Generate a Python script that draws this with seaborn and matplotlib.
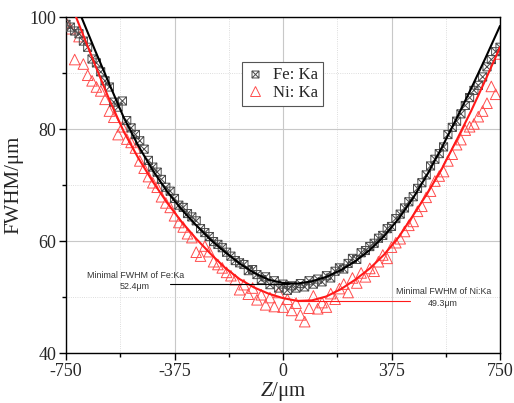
import numpy as np
import matplotlib
matplotlib.use("Agg")
import matplotlib.pyplot as plt
import seaborn as sns
from matplotlib.path import Path
from matplotlib.lines import Line2D
from matplotlib.ticker import MultipleLocator

# measured positions (um), 15 um steps
z = list(range(-750, 751, 15))

fe_fwhm = [
    98.7, 98.2, 97.5, 97.0, 95.7, 94.6, 92.5, 91.8, 90.2, 88.6,
    87.5, 84.8, 83.9, 85.0, 81.5, 80.2, 79.0, 77.9, 76.4, 74.4,
    73.2, 72.3, 71.0, 69.6, 68.9, 67.6, 66.4, 66.0, 64.9, 64.3,
    63.6, 62.2, 61.5, 60.8, 59.9, 59.4, 58.8, 58.0, 57.3, 56.5,
    56.1, 55.8, 54.7, 54.9, 54.0, 53.1, 53.6, 52.2, 52.9, 51.6,
    52.3, 51.2, 52.0, 51.6, 52.4, 51.8, 52.9, 52.3, 53.2, 52.7,
    53.8, 53.4, 54.6, 55.2, 55.0, 56.0, 56.9, 56.7, 57.9, 58.3,
    59.0, 59.6, 60.5, 61.0, 62.2, 62.6, 64.0, 64.8, 65.9, 67.0,
    67.9, 69.4, 70.4, 71.8, 73.4, 74.6, 75.6, 76.8, 79.0, 80.3,
    81.4, 82.7, 84.2, 85.6, 86.9, 87.8, 89.3, 91.1, 92.4, 93.8,
    94.6,
]

ni_fwhm = [
    99.0, 97.9, 92.4, 96.5, 91.6, 89.6, 88.6, 87.5, 86.8, 85.3,
    83.2, 82.1, 79.0, 80.4, 78.2, 77.6, 76.6, 74.3, 73.0, 71.5,
    70.4, 69.6, 67.9, 66.8, 66.0, 64.5, 63.3, 62.5, 61.3, 60.6,
    58.0, 57.3, 59.1, 58.1, 56.3, 55.8, 55.2, 54.4, 53.8, 53.1,
    51.3, 52.2, 50.5, 51.6, 49.5, 50.4, 48.6, 49.9, 48.3, 50.8,
    48.2, 49.6, 47.6, 48.9, 46.8, 45.6, 48.0, 50.2, 47.9, 49.0,
    48.2, 50.6, 49.6, 51.5, 52.3, 50.8, 53.4, 52.5, 54.3, 53.6,
    55.1, 54.6, 56.3, 57.5, 56.9, 58.9, 59.7, 60.4, 61.7, 62.8,
    63.5, 65.3, 66.2, 67.8, 68.9, 70.7, 71.6, 72.4, 74.3, 75.5,
    77.2, 78.1, 79.8, 80.4, 80.9, 82.2, 83.2, 84.6, 87.6, 86.2,
    93.4,
]

# fitted curves, 50 um steps
fit_z = list(range(-750, 751, 50))
fe_fit = [106.8, 100.4, 94.1, 88.0, 82.0, 77.0, 72.6, 68.8, 65.6, 62.8,
          60.2, 58.0, 56.0, 54.3, 53.1, 52.5, 52.4, 52.8, 53.6, 54.8,
          56.4, 58.4, 60.9, 64.0, 67.7, 72.0, 76.8, 81.9, 87.2, 92.7, 98.4]
ni_fit = [104.5, 98.0, 91.5, 85.2, 79.5, 74.8, 70.6, 66.8, 63.4, 60.4,
          57.7, 55.2, 53.2, 51.7, 50.6, 49.8, 49.3, 49.4, 50.1, 51.4,
          53.1, 55.1, 57.6, 60.7, 64.6, 68.6, 73.0, 78.0, 83.2, 88.8, 94.6]

fe_min = 52.4
ni_min = 49.3

sns.set_theme(style="ticks")
plt.rcParams["font.family"] = ["Liberation Serif", "DejaVu Serif"]
plt.rcParams["mathtext.fontset"] = "custom"
plt.rcParams["mathtext.it"] = "Liberation Serif:italic"
plt.rcParams["axes.unicode_minus"] = False

fe_color = "#4a4a4a"
ni_color = "#ff4d4d"

# square with a cross inside, like the Origin marker
box_x = Path([(-1, -1), (1, -1), (1, 1), (-1, 1), (-1, -1),
              (-1, -1), (1, 1), (-1, 1), (1, -1)],
             [Path.MOVETO, Path.LINETO, Path.LINETO, Path.LINETO, Path.CLOSEPOLY,
              Path.MOVETO, Path.LINETO, Path.MOVETO, Path.LINETO])

fig = plt.figure(figsize=(5.14, 4.03), dpi=100)
ax = fig.add_axes([66 / 514, 1 - 353 / 403, 434 / 514, 336 / 403])

ax.grid(True, which="major", color="#c8c8c8", lw=0.8, ls="-")
ax.grid(True, which="minor", color="#d2d2d2", lw=0.6, ls=":")
ax.set_axisbelow(True)

sns.scatterplot(x=z, y=ni_fwhm, ax=ax, marker="^", s=58, fc="none",
                ec=ni_color, linewidth=0.7, zorder=2)
sns.scatterplot(x=z, y=fe_fwhm, ax=ax, marker=box_x, s=34, fc="none",
                ec=fe_color, linewidth=0.7, zorder=3)

sns.lineplot(x=fit_z, y=ni_fit, ax=ax, color="#ff1a1a", lw=1.5,
             estimator=None, zorder=4)
sns.lineplot(x=fit_z, y=fe_fit, ax=ax, color="black", lw=1.5,
             estimator=None, zorder=5)

# minimum annotations
ax.plot([-390, 20], [fe_min, fe_min], color="black", lw=0.8, zorder=5)
ax.plot([47, 439], [ni_min, ni_min], color="#ff1a1a", lw=0.8, zorder=5)
ann = dict(family=["Liberation Sans", "DejaVu Sans"], fontsize=6.4,
           color="#333333", ha="center", va="center")
ax.text(-511, 53.9, "Minimal FWHM of Fe:Ka", **ann)
ax.text(-511, 51.8, f"{fe_min}μm", **ann)
ax.text(556, 50.9, "Minimal FWHM of Ni:Ka", **ann)
ax.text(553, 48.75, f"{ni_min}μm", **ann)

ax.set_xlim(-750, 750)
ax.set_ylim(40, 100)
ax.xaxis.set_major_locator(MultipleLocator(375))
ax.xaxis.set_minor_locator(MultipleLocator(187.5))
ax.yaxis.set_major_locator(MultipleLocator(20))
ax.yaxis.set_minor_locator(MultipleLocator(10))
ax.tick_params(which="major", direction="out", length=5, width=1,
               labelsize=13, color="black", pad=2)
ax.tick_params(which="minor", direction="out", length=3, width=1,
               color="black")
for s in ax.spines.values():
    s.set_visible(True)
    s.set_color("black")
    s.set_linewidth(1.0)

ax.set_xlabel(r"$\mathit{Z}$/μm", fontsize=15, labelpad=0)
ax.set_ylabel("FWHM/μm", fontsize=15, labelpad=4)

handles = [
    Line2D([], [], ls="none", marker=box_x, ms=5, mfc="none",
           mec=fe_color, mew=0.7),
    Line2D([], [], ls="none", marker="^", ms=7, mfc="none",
           mec=ni_color, mew=0.7),
]
leg = ax.legend(handles, ["Fe: Ka", "Ni: Ka"], loc="upper left",
                bbox_to_anchor=(0.405, 0.865), fontsize=12, frameon=True,
                fancybox=False, framealpha=1, edgecolor="#555555",
                handlelength=1.0, handletextpad=0.6, borderpad=0.3,
                labelspacing=0.1, borderaxespad=0)
leg.get_frame().set_linewidth(0.8)

fig.savefig("out.png", dpi=100)
